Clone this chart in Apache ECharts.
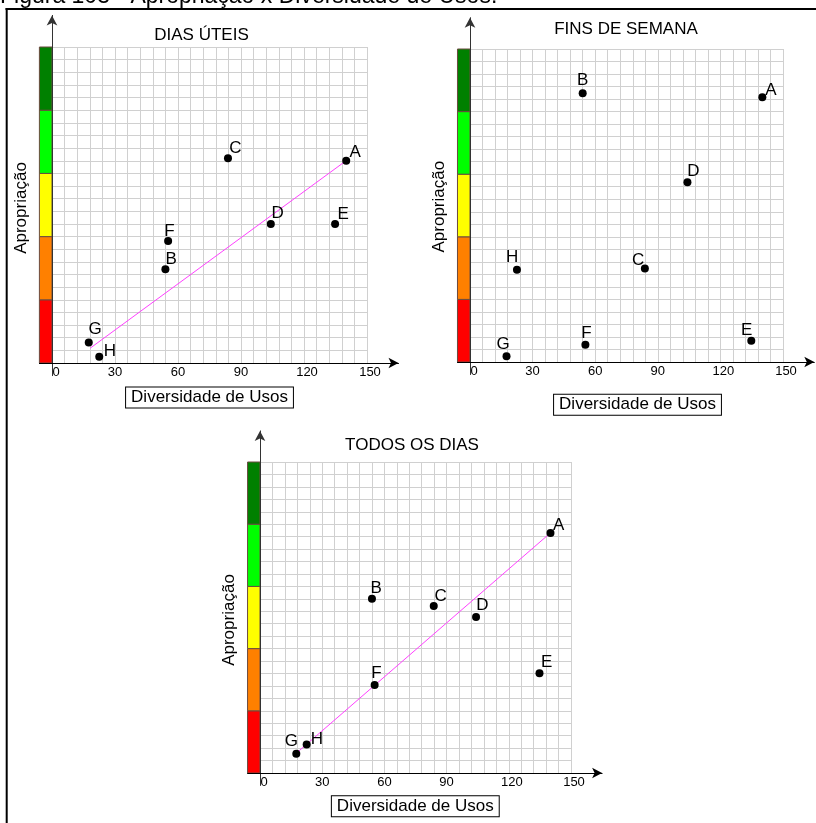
<!DOCTYPE html>
<html><head><meta charset="utf-8">
<script src="https://cdn.jsdelivr.net/npm/echarts@6/dist/echarts.min.js"></script>
<style>html,body{margin:0;padding:0;background:#fff}#c{width:816px;height:823px}</style>
</head><body><div id="c"></div>
<script>
// ---- data ----
const pointLabels = ['A','B','C','D','E','F','G','H'];
const diversidade = [140.1, 54, 83.8, 104.2, 134.8, 55.3, 17.5, 22.5];
const apropDiasUteis = [64, 29.7, 64.8, 44, 44, 38.6, 6.5, 2];
const apropFinsSemana = [84.6, 85.9, 29.9, 57.4, 6.8, 5.5, 1.8, 29.5];
const apropTodosDias = [77.2, 56.0, 53.7, 50.2, 32.1, 28.3, 6.2, 9.2];
const trendDiasUteisX = [18.2, 139.6];
const trendDiasUteisY = [4.7, 63.8];
const trendTodosDiasX = [17.4, 139.9];
const trendTodosDiasY = [6.3, 77.1];
const bandLimits = [0, 20, 40, 60, 80, 100];
const bandColors = ['#ff0000', '#ff8000', '#ffff00', '#00ff00', '#008000'];
const titles = ['DIAS ÚTEIS', 'FINS DE SEMANA', 'TODOS OS DIAS'];
const xName = 'Diversidade de Usos';
const yName = 'Apropriação';
const caption = 'Figura 103 - Apropriação x Diversidade de Usos.';

// ---- layout / style ----
const FONT = "'Liberation Sans', Arial, sans-serif";
const panels = [
  {L:52, T:47, W:315, H:316, title:[201.5,35], xname:[209.5,397.5], yname:[21,208],
   y: apropDiasUteis, tx: trendDiasUteisX, ty: trendDiasUteisY,
   off:{A:[9,-8],B:[5.7,-10.3],C:[7.3,-10],D:[6.7,-11],E:[8,-10],F:[1.3,-9.7],G:[6.3,-12.7],H:[10.7,-5.3]}},
  {L:470, T:49, W:313, H:313, title:[626,29], xname:[637.5,404.7], yname:[439.5,206.7],
   y: apropFinsSemana, tx:null, ty:null,
   off:{A:[8.7,-7.3],B:[0,-13],C:[-6.7,-8.3],D:[6,-11.3],E:[-4.7,-10],F:[1,-11.3],G:[-3.3,-12.3],H:[-4.7,-12.3]}},
  {L:260, T:462, W:311, H:311, title:[412,445], xname:[415.3,806.3], yname:[229.5,620],
   y: apropTodosDias, tx: trendTodosDiasX, ty: trendTodosDiasY,
   off:{A:[8.3,-7.3],B:[4.3,-10.3],C:[7,-9.7],D:[6.3,-11.7],E:[7.3,-10.7],F:[1.7,-11.7],G:[-5,-12.7],H:[10.3,-5]}}
];

const grid = [], xAxis = [], yAxis = [], series = [], graphic = [];
const GRID = '#d0d0d0';

panels.forEach((p, i) => {
  const ppu = p.W / 150, ppy = p.H / 100;
  grid.push({left:p.L, top:p.T, width:p.W, height:p.H, containLabel:false});
  grid.push({left:p.L - 6*ppu, top:p.T - 10*ppy, width:171*ppu, height:114*ppy, containLabel:false});
  xAxis.push({gridIndex:2*i, type:'value', min:0, max:150, interval:30,
    axisLine:{show:false}, axisTick:{show:false},
    minorTick:{show:false, splitNumber:5},
    splitLine:{show:true, lineStyle:{color:GRID, width:1}},
    minorSplitLine:{show:true, lineStyle:{color:GRID, width:1}},
    axisLabel:{show:true, margin:3, fontSize:13, fontFamily:FONT, color:'#000',
      formatter: v => v === 0 ? '{a|0}' : (v >= 120 ? '{b|' + v + '}' : String(v)),
      rich:{a:{padding:[0,0,0,8], fontSize:13, fontFamily:FONT, color:'#000'},
            b:{padding:[0,0,0,6], fontSize:13, fontFamily:FONT, color:'#000'}}}
  });
  yAxis.push({gridIndex:2*i, type:'value', min:0, max:100, interval:20,
    axisLine:{show:false}, axisTick:{show:false}, axisLabel:{show:false},
    minorTick:{show:false, splitNumber:5},
    splitLine:{show:true, lineStyle:{color:GRID, width:1}},
    minorSplitLine:{show:true, lineStyle:{color:GRID, width:1}}
  });
  xAxis.push({gridIndex:2*i+1, type:'value', min:-6, max:165, z:5,
    axisLine:{show:true, onZero:true, symbol:['none','arrow'], symbolSize:[8,10], lineStyle:{color:'#000', width:1}},
    axisTick:{show:false}, axisLabel:{show:false}, splitLine:{show:false}});
  yAxis.push({gridIndex:2*i+1, type:'value', min:-4, max:110, z:5,
    axisLine:{show:true, onZero:true, symbol:['none','arrow'], symbolSize:[8,10], lineStyle:{color:'#333', width:1}},
    axisTick:{show:false}, axisLabel:{show:false}, splitLine:{show:false}});

  series.push({type:'custom', xAxisIndex:2*i+1, yAxisIndex:2*i+1, z:1, silent:true,
    data: bandColors.map((c, k) => [bandLimits[k], bandLimits[k+1], k]),
    renderItem(params, api){
      const p0 = api.coord([-6, api.value(1)]);
      const p1 = api.coord([0, api.value(0)]);
      return {type:'rect', shape:{x:p0[0], y:p0[1], width:p1[0]-p0[0], height:p1[1]-p0[1]},
        style:{fill: bandColors[api.value(2)], stroke:'#6b4a3f', lineWidth:1}};
    }});

  if (p.tx) {
    series.push({type:'line', xAxisIndex:2*i, yAxisIndex:2*i, showSymbol:false, silent:true, z:2,
      data: p.tx.map((x, k) => [x, p.ty[k]]),
      lineStyle:{color:'#ff40ff', width:1}});
  }
  series.push({type:'scatter', xAxisIndex:2*i, yAxisIndex:2*i, symbolSize:8, z:3, silent:true,
    itemStyle:{color:'#000', opacity:1},
    data: diversidade.map((x, k) => ({name: pointLabels[k], value:[x, p.y[k]],
      label:{offset: p.off[pointLabels[k]]}})),
    label:{show:true, position:'inside', formatter:'{b}', fontSize:17, fontFamily:FONT, color:'#000',
      textBorderWidth:0}
  });

  graphic.push({type:'text', x:p.title[0], y:p.title[1], silent:true,
    style:{text:titles[i], font:'17px ' + FONT, fill:'#000', textAlign:'center', textVerticalAlign:'middle'}});
  graphic.push({type:'text', x:p.xname[0], y:p.xname[1], silent:true,
    style:{text:xName, font:'17px ' + FONT, fill:'#000', textAlign:'center', textVerticalAlign:'middle',
      borderColor:'#000', borderWidth:1, padding:[2,5,1,5], backgroundColor:'#fff'}});
  graphic.push({type:'text', x:p.yname[0], y:p.yname[1], rotation:Math.PI/2, silent:true,
    style:{text:yName, font:'17px ' + FONT, fill:'#000', textAlign:'center', textVerticalAlign:'middle'}});
});

graphic.push({type:'text', x:0, y:-3, silent:true,
  style:{text:caption, font:'23px ' + FONT, fill:'#000', textAlign:'left', textVerticalAlign:'middle'}});
graphic.push({type:'line', silent:true, shape:{x1:5.5, y1:9, x2:816, y2:9}, style:{stroke:'#000', lineWidth:2}});
graphic.push({type:'line', silent:true, shape:{x1:6.7, y1:8, x2:6.7, y2:823}, style:{stroke:'#000', lineWidth:2}});

const chart = echarts.init(document.getElementById('c'), null, {renderer:'canvas'});
chart.setOption({animation:false, backgroundColor:'#fff', grid, xAxis, yAxis, series, graphic});
</script>
</body></html>
